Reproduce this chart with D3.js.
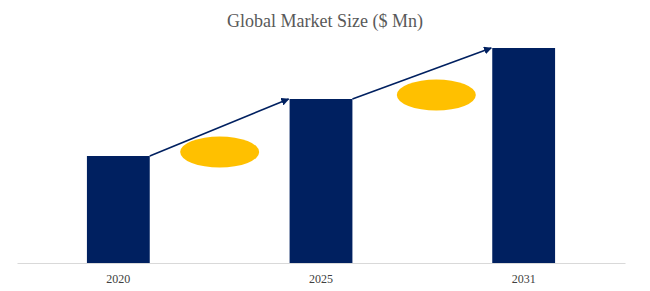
<!DOCTYPE html>
<html><head><meta charset="utf-8">
<script src="https://cdn.jsdelivr.net/npm/d3@7"></script>
<style>body{margin:0;background:#fff}</style>
</head><body>
<svg id="chart" width="650" height="291"></svg>
<script>
const title = "Global Market Size ($ Mn)";
const categories = ["2020", "2025", "2031"];
const values = [107, 164, 215];

const svg = d3.select("#chart");
const x = d3.scaleBand().domain(categories).range([17, 625]).paddingInner(0.69).paddingOuter(0.345);
const y = d3.scaleLinear().domain([0, 215]).range([263, 48]);
// relative position of each growth ellipse within the gap between bars
const ellipsePos = [0.5, 0.6];

svg.append("defs").append("marker")
  .attr("id", "arrow").attr("viewBox", "0 0 10 10")
  .attr("refX", 9).attr("refY", 5)
  .attr("markerWidth", 5).attr("markerHeight", 5)
  .attr("markerUnits", "strokeWidth")
  .attr("orient", "auto")
  .append("path").attr("d", "M0,0L10,5L0,10Z").attr("fill", "#002060");

svg.append("text").attr("x", 325).attr("y", 27).attr("text-anchor", "middle")
  .attr("font-family", "Liberation Serif, Times New Roman, serif").attr("font-size", 18)
  .attr("fill", "#595959").text(title);

svg.selectAll("rect.bar").data(values).join("rect").attr("class", "bar")
  .attr("x", (d, i) => x(categories[i])).attr("width", x.bandwidth())
  .attr("y", d => y(d)).attr("height", d => y(0) - y(d))
  .attr("fill", "#002060");

const axis = svg.append("g").attr("transform", `translate(0,${y(0)})`)
  .call(d3.axisBottom(x).tickSize(0).tickPadding(11));
axis.select(".domain").attr("stroke", "#d9d9d9").attr("d", "M17.5,0.5H625.5");
axis.selectAll("text").attr("font-family", "Liberation Serif, Times New Roman, serif")
  .attr("font-size", 12).attr("fill", "#404040");

const pairs = d3.pairs(values.map((v, i) => ({v, c: categories[i]})));
svg.selectAll("line.arrow").data(pairs).join("line").attr("class", "arrow")
  .attr("x1", d => x(d[0].c) + x.bandwidth()).attr("y1", d => y(d[0].v))
  .attr("x2", d => x(d[1].c) - 1).attr("y2", d => y(d[1].v))
  .attr("stroke", "#002060").attr("stroke-width", 1.6)
  .attr("marker-end", "url(#arrow)");

svg.selectAll("ellipse").data(pairs).join("ellipse")
  .attr("cx", (d, i) => {
    const a = x(d[0].c) + x.bandwidth(), b = x(d[1].c);
    return a + (b - a) * ellipsePos[i];
  })
  .attr("cy", d => y(d[0].v) - 4)
  .attr("rx", 39.5).attr("ry", 15.5)
  .attr("fill", "#FFC000");
</script>
</body></html>
